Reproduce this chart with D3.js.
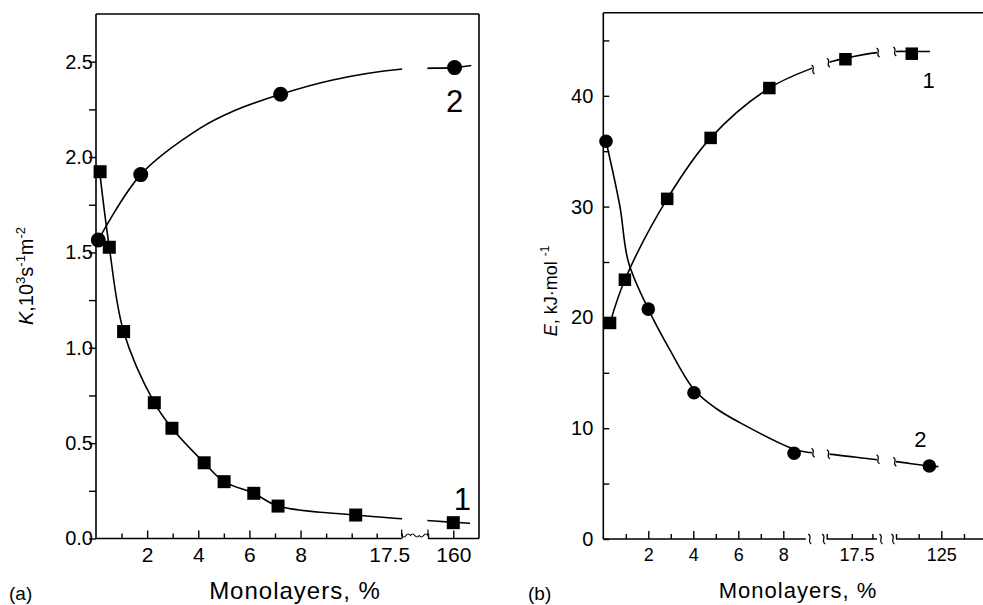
<!DOCTYPE html>
<html>
<head>
<meta charset="utf-8">
<script src="https://cdn.jsdelivr.net/npm/d3@7"></script>
<style>
  html, body { margin: 0; padding: 0; background: #fff; }
  svg { display: block; }
  text { font-family: "Liberation Sans", Arial, Helvetica, sans-serif; fill: #000; }
</style>
</head>
<body>
<svg id="chart" width="983" height="605"></svg>
<script>
// ---------------- DATA ----------------
// Panel (a): K, 10^3 s^-1 m^-2 vs monolayers, %
const aSquaresX = [0.16, 0.52, 1.08, 2.28, 2.97, 4.23, 5.01, 6.17, 7.12, 10.8, 160];
const aSquaresK = [1.923, 1.527, 1.085, 0.712, 0.578, 0.397, 0.298, 0.237, 0.170, 0.123, 0.083];
const aCirclesX = [0.09, 1.75, 7.22, 161];
const aCirclesK = [1.565, 1.908, 2.329, 2.469];
// fitted curves (a)
const aFit1X = [0.12, 0.52, 1.08, 2.28, 2.97, 4.23, 5.01, 6.17, 7.12, 10.8, 160, 173];
const aFit1K = [1.95, 1.527, 1.085, 0.712, 0.578, 0.397, 0.298, 0.237, 0.170, 0.123, 0.085, 0.08];
const aFit2X = [0.09, 1.75, 4.06, 5.36, 7.22, 9.26, 19.7, 161, 174];
const aFit2K = [1.565, 1.908, 2.15, 2.24, 2.329, 2.404, 2.46, 2.469, 2.48];
// axis (a)
const aYTicks = [0, 0.25, 0.5, 0.75, 1, 1.25, 1.5, 1.75, 2, 2.25, 2.5];
const aYLabels = [0, 0.5, 1, 1.5, 2, 2.5];
const aXMinorTicks = [1, 3, 5, 7, 9, 10, 15, 20, 140];
const aXMajorTicks = [2, 4, 6, 8, 160];
const aXLabels = [2, 4, 6, 8, 17.5, 160];

// Panel (b): E, kJ mol^-1 vs monolayers, %
const bSquaresX = [0.3, 0.96, 2.84, 4.77, 7.38, 15.1, 108.7];
const bSquaresE = [19.5, 23.4, 30.7, 36.2, 40.7, 43.3, 43.8];
const bCirclesX = [0.12, 2.0, 4.03, 8.48, 118.4];
const bCirclesE = [35.9, 20.75, 13.2, 7.74, 6.59];
const bFit1X = [0.3, 0.96, 2.84, 4.77, 7.38, 9.9, 12.1, 15.1, 22.2, 99, 108.7, 118.7];
const bFit1E = [19.5, 23.4, 30.7, 36.2, 40.7, 42.6, 43.1, 43.4, 43.9, 44.0, 44.0, 44.0];
const bFit2X = [0.12, 0.74, 1.11, 2.0, 2.96, 4.03, 5.0, 6.07, 8.48, 9.4, 11, 21.2, 99, 118.4, 123.4];
const bFit2E = [35.9, 30, 25.05, 20.75, 17.07, 13.5, 11.8, 10.5, 8.1, 7.8, 7.68, 7.2, 6.98, 6.59, 6.53];
const bYTicks = [0, 5, 10, 15, 20, 25, 30, 35, 40, 45];
const bYLabels = [0, 10, 20, 30, 40];
const bXMinorTicks = [1, 3, 5, 7, 11, 16.5, 21, 100, 112.5, 137.5];
const bXMajorTicks = [2, 4, 6, 8, 125];
const bXLabels = [2, 4, 6, 8, 17.5, 125];

// axis/curve breaks (data units)
const aAxisGaps = [[20, 140]];
const aCurveGaps = [[22, 137]];
const bAxisGaps = [[9, 11], [22, 100]];
const bCurveGaps = [[9.6, 11.6], [22.3, 99.2]];

// ---------------- DRAW ----------------
const svg = d3.select("#chart");
const FONT = '"Liberation Sans", Arial, Helvetica, sans-serif';

function squiggle(g, x, y, h) {
  const p = d3.path();
  p.moveTo(x - 1.5, y - h / 2);
  p.bezierCurveTo(x + 3.5, y - h / 6, x - 3.5, y + h / 6, x + 1.5, y + h / 2);
  g.append("path").attr("d", p.toString()).attr("fill", "none")
    .attr("stroke", "#000").attr("stroke-width", 1.2);
}

function panel(cfg) {
  const g = svg.append("g");
  const x = d3.scaleLinear().domain(cfg.xDomain).range(cfg.xRange);
  const y = d3.scaleLinear().domain(cfg.yDomain).range([cfg.bottom, cfg.top]);
  const left = cfg.xRange[0], right = cfg.xRange[cfg.xRange.length - 1];

  // frame
  g.append("line").attr("x1", left).attr("x2", left).attr("y1", cfg.top).attr("y2", cfg.bottom)
    .attr("stroke", "#000").attr("stroke-width", 1.6);
  g.append("line").attr("x1", left).attr("x2", right).attr("y1", cfg.top).attr("y2", cfg.top)
    .attr("stroke", "#000").attr("stroke-width", 1.6);
  if (cfg.rightBorder) {
    g.append("line").attr("x1", right).attr("x2", right).attr("y1", cfg.top).attr("y2", cfg.bottom)
      .attr("stroke", "#000").attr("stroke-width", 1.6);
  }
  // bottom axis line with gaps
  const gaps = cfg.axisGaps;
  let segStart = cfg.xDomain[0];
  const segs = [];
  gaps.forEach(gp => { segs.push([segStart, gp[0]]); segStart = gp[1]; });
  segs.push([segStart, cfg.xDomain[cfg.xDomain.length - 1]]);
  segs.forEach(s => {
    g.append("line").attr("x1", x(s[0])).attr("x2", x(s[1])).attr("y1", cfg.bottom).attr("y2", cfg.bottom)
      .attr("stroke", "#000").attr("stroke-width", 1.6);
  });
  gaps.forEach(gp => {
    const x0 = x(gp[0]), x1 = x(gp[1]);
    if (cfg.axisBreakStyle === "wave") {
      const p = d3.path();
      const yb = cfg.bottom - 3;
      p.moveTo(x0, cfg.bottom - 9); p.lineTo(x0, yb);
      const n = 3, w = (x1 - x0) / n;
      for (let i = 0; i < n; i++) {
        const xa = x0 + i * w;
        p.quadraticCurveTo(xa + w / 4, yb + (i % 2 ? -3 : 3), xa + w / 2, yb);
        p.quadraticCurveTo(xa + 3 * w / 4, yb + (i % 2 ? 3 : -3), xa + w, yb);
      }
      p.lineTo(x1, cfg.bottom - 9);
      g.append("path").attr("d", p.toString()).attr("fill", "none").attr("stroke", "#000").attr("stroke-width", 1.2);
    } else {
      squiggle(g, x0 + 4, cfg.bottom, 10);
      squiggle(g, x1 - 3, cfg.bottom, 10);
    }
  });

  // y axis
  const yAxisTicks = d3.axisLeft(y).tickValues(cfg.yTicks).tickSize(cfg.yTickSize).tickFormat("");
  g.append("g").attr("transform", `translate(${left},0)`).call(yAxisTicks)
    .call(a => a.select(".domain").remove())
    .call(a => a.selectAll("line").attr("stroke-width", 1.4));
  const yAxisLabels = d3.axisLeft(y).tickValues(cfg.yLabels).tickSize(0).tickPadding(cfg.yLabelPad)
    .tickFormat(cfg.yFormat);
  g.append("g").attr("transform", `translate(${left},0)`).call(yAxisLabels)
    .call(a => a.select(".domain").remove())
    .call(a => a.selectAll("text").attr("font-family", FONT).attr("font-size", cfg.yFont).attr("fill", "#000"));

  // x axis ticks (inward)
  g.append("g").attr("transform", `translate(0,${cfg.bottom})`)
    .call(d3.axisBottom(x).tickValues(cfg.xMinor).tickSize(-5).tickFormat(""))
    .call(a => a.select(".domain").remove())
    .call(a => a.selectAll("line").attr("stroke-width", 1.4));
  g.append("g").attr("transform", `translate(0,${cfg.bottom})`)
    .call(d3.axisBottom(x).tickValues(cfg.xMajor).tickSize(-8).tickFormat(""))
    .call(a => a.select(".domain").remove())
    .call(a => a.selectAll("line").attr("stroke-width", 1.4));
  g.append("g").attr("transform", `translate(0,${cfg.bottom})`)
    .call(d3.axisBottom(x).tickValues(cfg.xLabels).tickSize(0).tickPadding(cfg.xLabelPad).tickFormat(d => String(d)))
    .call(a => a.select(".domain").remove())
    .call(a => a.selectAll("text").attr("font-family", FONT).attr("font-size", cfg.xFont).attr("fill", "#000"));

  // curves, clipped with gaps
  const clipId = cfg.id + "-clip";
  const clip = svg.append("clipPath").attr("id", clipId);
  let cs = cfg.xDomain[0];
  const cSegs = [];
  cfg.curveGaps.forEach(gp => { cSegs.push([cs, gp[0]]); cs = gp[1]; });
  cSegs.push([cs, cfg.xDomain[cfg.xDomain.length - 1]]);
  cSegs.forEach(s => {
    clip.append("rect").attr("x", x(s[0])).attr("y", cfg.top).attr("width", x(s[1]) - x(s[0]))
      .attr("height", cfg.bottom - cfg.top);
  });
  const line = d3.line().x(d => x(d[0])).y(d => y(d[1])).curve(d3.curveCatmullRom.alpha(0.5));
  const curveG = g.append("g").attr("clip-path", `url(#${clipId})`);
  cfg.fits.forEach(f => {
    const pts = d3.zip(f[0], f[1]);
    curveG.append("path").datum(pts).attr("d", line).attr("fill", "none")
      .attr("stroke", "#000").attr("stroke-width", 1.6);
    if (cfg.curveSquiggles) {
      const interp = v => {
        const i = d3.bisector(d => d[0]).left(pts, v);
        const a = pts[Math.max(0, i - 1)], b = pts[Math.min(pts.length - 1, i)];
        const t = b[0] === a[0] ? 0 : (v - a[0]) / (b[0] - a[0]);
        return a[1] + t * (b[1] - a[1]);
      };
      cfg.curveGaps.forEach(gp => {
        squiggle(g, x(gp[0]) + 1, y(interp(gp[0])), 9);
        squiggle(g, x(gp[1]) - 1, y(interp(gp[1])), 9);
      });
    }
  });

  // markers
  const sq = cfg.squareSize;
  g.append("g").selectAll("rect").data(d3.zip(cfg.squares[0], cfg.squares[1])).join("rect")
    .attr("x", d => x(d[0]) - sq / 2).attr("y", d => y(d[1]) - sq / 2)
    .attr("width", sq).attr("height", sq).attr("fill", "#000");
  g.append("g").selectAll("circle").data(d3.zip(cfg.circles[0], cfg.circles[1])).join("circle")
    .attr("cx", d => x(d[0])).attr("cy", d => y(d[1])).attr("r", cfg.circleR).attr("fill", "#000");

  // series labels
  cfg.seriesLabels.forEach(l => {
    g.append("text").attr("x", x(l.x)).attr("y", y(l.y)).attr("text-anchor", "middle")
      .attr("font-size", cfg.seriesFont).text(l.t);
  });

  // x title
  g.append("text").attr("x", cfg.xTitlePos[0]).attr("y", cfg.xTitlePos[1]).attr("text-anchor", "middle")
    .attr("font-size", cfg.xTitleFont).attr("letter-spacing", "1px").text("Monolayers, %");
  // panel letter
  g.append("text").attr("x", cfg.letterPos[0]).attr("y", cfg.letterPos[1]).attr("font-size", 19).text(cfg.letter);
  return { g, x, y };
}

// ---- Panel (a)
const A = panel({
  id: "a",
  xDomain: [0, 10, 20, 140, 160, 180],
  xRange: [96, 351.7, 401.7, 428, 453.3, 479],
  yDomain: [0, 2.75], top: 14, bottom: 538.5,
  rightBorder: true,
  axisGaps: aAxisGaps, axisBreakStyle: "wave",
  curveGaps: aCurveGaps, curveSquiggles: false,
  yTicks: aYTicks, yLabels: aYLabels, yTickSize: 7, yLabelPad: 3, yFont: 20,
  yFormat: d3.format(".1f"),
  xMinor: aXMinorTicks, xMajor: aXMajorTicks, xLabels: aXLabels, xLabelPad: 9, xFont: 21,
  fits: [[aFit1X, aFit1K], [aFit2X, aFit2K]],
  squares: [aSquaresX, aSquaresK], circles: [aCirclesX, aCirclesK],
  squareSize: 13, circleR: 7.5,
  seriesLabels: [{ t: "2", x: 161, y: 2.235 }, { t: "1", x: 167, y: 0.15 }], seriesFont: 31,
  xTitlePos: [295, 599], xTitleFont: 24,
  letter: "(a)", letterPos: [9, 600]
});

// ---- Panel (b)
const B = panel({
  id: "b",
  xDomain: [0, 9, 11, 22, 100, 148],
  xRange: [603.3, 805.8, 826.7, 877, 896, 983],
  yDomain: [0, 47.5], top: 12.7, bottom: 539,
  rightBorder: false,
  axisGaps: bAxisGaps, axisBreakStyle: "squiggle",
  curveGaps: bCurveGaps, curveSquiggles: true,
  yTicks: bYTicks, yLabels: bYLabels, yTickSize: -6, yLabelPad: 10, yFont: 20,
  yFormat: d3.format("d"),
  xMinor: bXMinorTicks, xMajor: bXMajorTicks, xLabels: bXLabels, xLabelPad: 9, xFont: 18,
  fits: [[bFit1X, bFit1E], [bFit2X, bFit2E]],
  squares: [bSquaresX, bSquaresE], circles: [bCirclesX, bCirclesE],
  squareSize: 12.5, circleR: 6.8,
  seriesLabels: [{ t: "1", x: 118, y: 40.7 }, { t: "2", x: 113.5, y: 8.3 }], seriesFont: 22,
  xTitlePos: [798, 598], xTitleFont: 22,
  letter: "(b)", letterPos: [528, 600]
});

// y titles
const ya = svg.append("text").attr("transform", "translate(33,276) rotate(-90)")
  .attr("text-anchor", "middle").attr("font-size", 20);
ya.append("tspan").attr("font-style", "italic").text("K");
ya.append("tspan").text(",10");
ya.append("tspan").attr("font-size", 13).attr("dy", -8).text("3");
ya.append("tspan").attr("dy", 8).text("s");
ya.append("tspan").attr("font-size", 13).attr("dy", -8).text("-1");
ya.append("tspan").attr("dy", 8).text("m");
ya.append("tspan").attr("font-size", 13).attr("dy", -8).text("-2");

const yb = svg.append("text").attr("transform", "translate(557,291) rotate(-90)")
  .attr("text-anchor", "middle").attr("font-size", 18);
yb.append("tspan").attr("font-style", "italic").text("E");
yb.append("tspan").text(", kJ·mol ");
yb.append("tspan").attr("font-size", 12).attr("dy", -8).text("-1");
</script>
</body>
</html>
